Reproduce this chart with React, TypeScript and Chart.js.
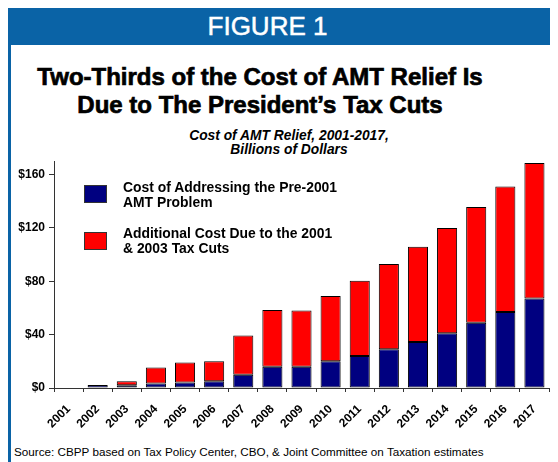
import React, { useEffect, useRef } from "react";
import { Chart, registerables } from "chart.js";

Chart.register(...registerables);

const years = ["2001","2002","2003","2004","2005","2006","2007","2008","2009","2010","2011","2012","2013","2014","2015","2016","2017"];
const pre2001Cost = [0, 2.2, 2, 3.4, 4.2, 5.1, 10, 16, 16, 20, 24, 29, 34.5, 41, 49, 57, 67];
const taxCutCost = [0, 0, 3, 12, 15, 15, 29.4, 42.5, 42, 49, 56.4, 64, 71.4, 79, 86.6, 94, 101.6];
const yTicks = [0, 40, 80, 120, 160];

const seriesNames = ["Cost of Addressing the Pre-2001 AMT Problem", "Additional Cost Due to the 2001 & 2003 Tax Cuts"];
const legendLines = [["Cost of Addressing the Pre-2001", "AMT Problem"], ["Additional Cost Due to the 2001", "& 2003 Tax Cuts"]];
const seriesColors = ["#000080", "#ff0000"];

const FONT = "'Liberation Sans', Arial, sans-serif";
const BLUE = "#0a63a6";

export default function App() {
  const ref = useRef<HTMLCanvasElement | null>(null);

  useEffect(() => {
    if (!ref.current) return;
    const chart = new Chart(ref.current, {
      type: "bar",
      data: {
        labels: years,
        datasets: [
          { label: seriesNames[0], data: pre2001Cost, backgroundColor: seriesColors[0], borderColor: "#000", borderWidth: 1, borderSkipped: false },
          { label: seriesNames[1], data: taxCutCost, backgroundColor: seriesColors[1], borderColor: "#000", borderWidth: 1, borderSkipped: false },
        ],
      },
      options: {
        responsive: false,
        animation: false,
        devicePixelRatio: 1,
        layout: { padding: { left: 0, right: 9, top: 7, bottom: 0 } },
        plugins: { legend: { display: false }, tooltip: { enabled: false }, title: { display: false } },
        datasets: { bar: { categoryPercentage: 1, barPercentage: 0.69 } },
        scales: {
          x: {
            stacked: true,
            offset: true,
            grid: { offset: true, drawOnChartArea: false, drawTicks: true, tickLength: 4, color: "#333" },
            border: { display: true, color: "#333", width: 1 },
            ticks: { color: "#000", font: { family: FONT, size: 12, weight: "bold" }, minRotation: 45, maxRotation: 45, padding: 10, autoSkip: false },
            afterFit: (s: any) => { s.height = 47; },
          },
          y: {
            stacked: true,
            min: 0,
            max: 170,
            grid: { drawOnChartArea: false, drawTicks: true, tickLength: 5, color: "#333" },
            border: { display: true, color: "#333", width: 1 },
            ticks: { color: "#000", font: { family: FONT, size: 12, weight: "bold" }, padding: 4, callback: (v: any) => "$" + v },
            afterBuildTicks: (s: any) => { s.ticks = yTicks.map((v) => ({ value: v })); },
            afterFit: (s: any) => { s.width = 43; },
          },
        },
      },
    });
    return () => chart.destroy();
  }, []);

  return (
    <div style={{ position: "relative", width: 550, height: 454, fontFamily: FONT, color: "#000" }}>
      <div style={{ position: "absolute", left: 0, top: 0, width: 3, height: 454, background: BLUE }} />
      <div style={{ position: "absolute", left: 0, top: 0, width: 550, height: 37, background: BLUE }} />
      <div style={{ position: "absolute", left: 0, top: 0, width: 519, height: 37, lineHeight: "37px", textAlign: "center", color: "#fff", fontSize: 26, WebkitTextStroke: "0.5px #fff" }}>
        FIGURE 1
      </div>
      <div style={{ position: "absolute", left: 0, top: 55, width: 504, textAlign: "center", fontSize: 24, fontWeight: "bold", lineHeight: "28px", WebkitTextStroke: "0.7px #000" }}>
        Two-Thirds of the Cost of AMT Relief Is<br />Due to The President’s Tax Cuts
      </div>
      <div style={{ position: "absolute", left: 100, top: 121, width: 362, textAlign: "center", fontSize: 13.8, fontWeight: "bold", fontStyle: "italic", lineHeight: "14px" }}>
        Cost of AMT Relief, 2001-2017,<br />Billions of Dollars
      </div>
      <canvas ref={ref} width={547} height={285} style={{ position: "absolute", left: 3, top: 142, width: 547, height: 285 }} />
      {legendLines.map((lines, i) => (
        <React.Fragment key={i}>
          <div style={{ position: "absolute", left: 76, top: 177 + i * 47, width: 23, height: 18, background: seriesColors[i], border: "1px solid #333", boxSizing: "border-box" }} />
          <div style={{ position: "absolute", left: 115, top: 172 + i * 46, fontSize: 13.9, fontWeight: "bold", lineHeight: "15px", whiteSpace: "nowrap" }}>
            {lines[0]}<br />{lines[1]}
          </div>
        </React.Fragment>
      ))}
      <div style={{ position: "absolute", left: 6, top: 436, fontSize: 11.7, lineHeight: "16px", whiteSpace: "nowrap" }}>
        Source: CBPP based on Tax Policy Center, CBO, &amp; Joint Committee on Taxation estimates
      </div>
    </div>
  );
}
